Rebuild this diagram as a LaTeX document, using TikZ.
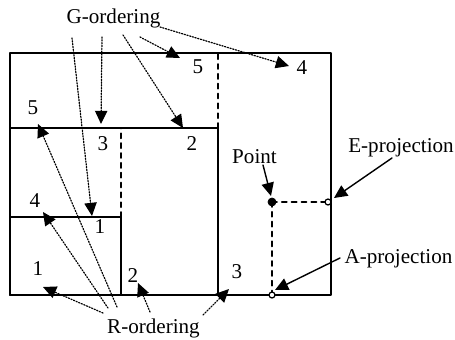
\documentclass[tikz,border=0pt]{standalone}
\usepackage{fontspec}
\setmainfont{Liberation Serif}
\usepackage{tkz-euclide}
\usetikzlibrary{arrows.meta}

\tikzset{
  order/.style={line width=0.7pt, dash pattern=on 0.7pt off 0.9pt,
    -{Triangle[length=7.5pt,width=7pt]}},
  proj/.style={line width=0.8pt, -{Triangle[length=7.5pt,width=7pt]}},
  guide/.style={line width=1.1pt, dash pattern=on 2.8pt off 2.8pt},
  lbl/.style={font=\fontsize{12}{14}\selectfont, inner sep=0pt, anchor=base}
}

\begin{document}
\begin{tikzpicture}
    \useasboundingbox (0,0) rectangle (9.1,6.78);
    % the three boxes
    \tkzDefPoints{0.2/0.88/O, 6.62/0.88/B, 6.62/5.72/C, 0.2/5.72/D,
      4.36/0.88/F, 4.36/4.22/G, 0.2/4.22/H, 4.36/5.72/N,
      2.42/0.88/K, 2.42/2.44/L, 0.2/2.44/M, 2.42/4.22/Q}
    \tkzDrawPolygon[line width=1.1pt](O,B,C,D)
    \tkzDrawPolygon[line width=1.1pt](O,F,G,H)
    \tkzDrawPolygon[line width=1.1pt](O,K,L,M)
    \tkzDrawSegments[guide](G,N L,Q)
    % point and its projections
    \tkzDefPoints{5.44/2.74/P, 6.56/2.74/E, 5.44/0.88/A}
    \tkzDrawSegments[guide](P,E P,A)
    \filldraw (P) circle (0.08);
    \draw[line width=0.7pt, fill=white] (E) circle (0.06);
    \draw[line width=0.7pt, fill=white] (A) circle (0.06);
    % labels
    \node[lbl] (gord) at (2.27,6.30) {G-ordering};
    \node[lbl] (rord) at (3.07,0.12) {R-ordering};
    \node[lbl] (eproj) at (8.02,3.74) {E-projection};
    \node[lbl] (aproj) at (7.97,1.52) {A-projection};
    \node[lbl] (ptlbl) at (5.09,3.52) {Point};
    \node[lbl] (gfive) at (3.96,5.30) {5};
    \node[lbl] (gfour) at (6.04,5.28) {4};
    \node[lbl] (gfivel) at (0.66,4.48) {5};
    \node[lbl] (gthree) at (2.06,3.78) {3};
    \node[lbl] (gtwo) at (3.84,3.78) {2};
    \node[lbl] (gone) at (2.00,2.12) {1};
    \node[lbl] (rfour) at (0.70,2.64) {4};
    \node[lbl] (rone) at (0.76,1.28) {1};
    \node[lbl] (rtwo) at (2.66,1.14) {2};
    \node[lbl] (rthree) at (4.74,1.22) {3};
    % G-ordering arrows
    \tkzDefPoints{1.44/6.02/Ga, 1.84/2.46/Gb, 2.04/6.04/Gc, 2.02/4.30/Gd,
      2.46/6.08/Ge, 3.66/4.22/Gf, 2.80/6.04/Gg, 3.60/5.62/Gh,
      3.20/6.24/Gi, 5.78/5.46/Gj}
    \tkzDrawSegments[order](Ga,Gb Gc,Gd Ge,Gf Gg,Gh Gi,Gj)
    % R-ordering arrows
    \tkzDefPoints{2.34/0.64/Ra, 0.76/4.30/Rb, 2.16/0.62/Rc, 0.86/2.54/Rd,
      2.06/0.52/Re, 0.86/1.04/Rf, 3.00/0.54/Rg, 2.76/1.12/Rh,
      4.06/0.48/Ri, 4.58/1.00/Rj}
    \tkzDrawSegments[order](Ra,Rb Rc,Rd Re,Rf Rg,Rh Ri,Rj)
    % projection arrows
    \tkzDefPoints{5.26/3.48/Pa, 5.42/2.86/Pb, 7.84/3.62/Ea, 6.68/2.82/Eb,
      6.80/1.62/Aa, 5.50/0.98/Ab}
    \tkzDrawSegments[proj](Pa,Pb Ea,Eb Aa,Ab)
\end{tikzpicture}
\end{document}
